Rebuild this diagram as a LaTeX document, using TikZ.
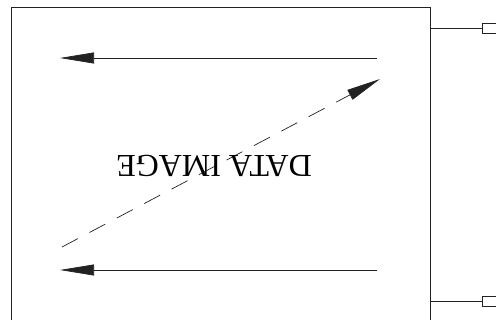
\documentclass[tikz,border=0pt]{standalone}
\usepackage{fontspec}
\setmainfont{Liberation Serif}
\usetikzlibrary{arrows.meta,positioning,calc}
\definecolor{trazo}{HTML}{222222}

\begin{document}
\begin{tikzpicture}[x=1pt,y=-1pt,
  every node/.style={font=\fontsize{32}{33}\selectfont},
  marco/.style={draw=trazo,line width=0.9pt,inner sep=0pt,anchor=north west},
  enchufe/.style={draw=trazo,line width=0.9pt,inner sep=0pt,anchor=west,
                  minimum width=22pt,minimum height=10pt},
  cable/.style={draw=trazo,line width=0.9pt},
  flecha/.style={-{Triangle[length=34pt,width=11pt]},draw=trazo,line width=0.7pt},
  rastro/.style={flecha,dash pattern=on 18pt off 13pt}
]
\useasboundingbox (0,0) rectangle (496,320);
\clip (0,0) rectangle (496,320);
% marco principal y salidas
\node[marco,minimum width=419pt,minimum height=330pt] (imagen) at (10.5,7) {};
\node[enchufe] (salida1) at (481.5,28) {};
\node[enchufe] (salida2) at (481.5,301) {};
\draw[cable] (imagen.east |- salida1.west) -- (salida1.west);
\draw[cable] (imagen.east |- salida2.west) -- (salida2.west);
% barrido
\coordinate (a1) at (377,58);  \coordinate (b1) at (60,58);
\coordinate (a2) at (377,270); \coordinate (b2) at (60,270);
\coordinate (c1) at (62,247);  \coordinate (c2) at (380,79);
\draw[flecha] (a1) -- (b1);
\draw[flecha] (a2) -- (b2);
\draw[rastro] (c1) -- (c2);
\node[rotate=180] (rotulo) at (214,166) {DATA IMAGE};
\end{tikzpicture}
\end{document}
